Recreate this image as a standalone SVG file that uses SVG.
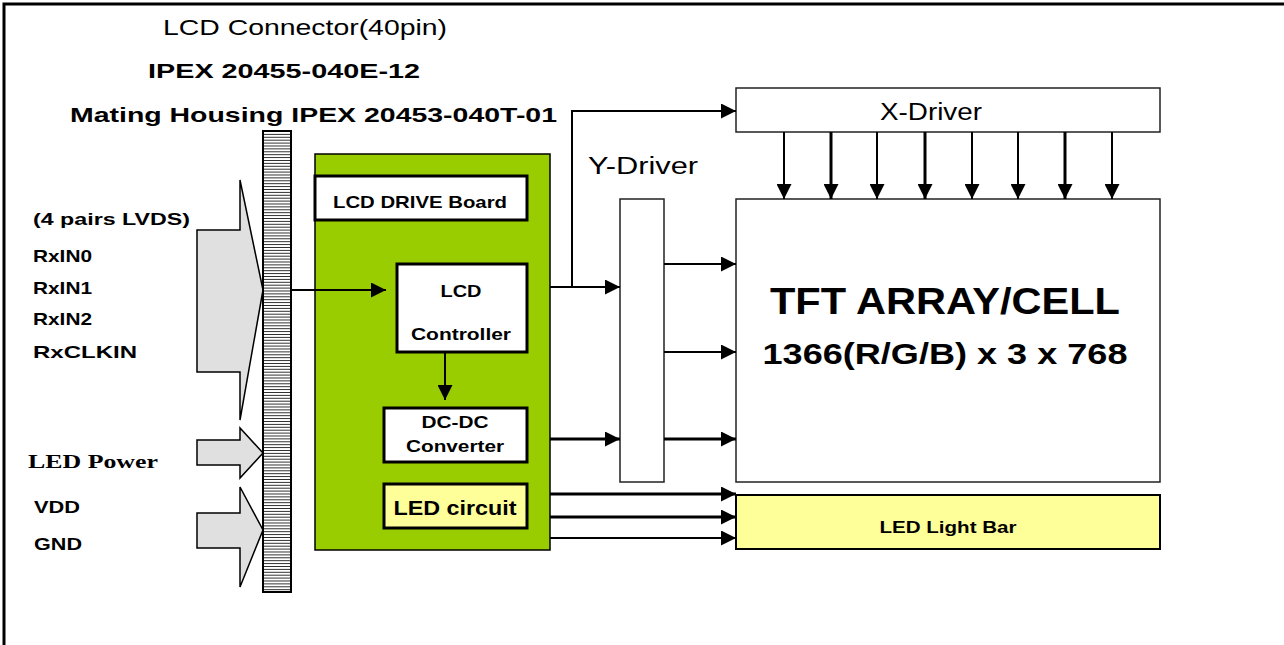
<svg xmlns="http://www.w3.org/2000/svg" width="1284" height="645" viewBox="0 0 1284 645">
<style>
text{font-family:"Liberation Sans",Arial,sans-serif;fill:#000}
.b{font-weight:bold}
.box{fill:#fff;stroke:#000;stroke-width:3}
.thin{fill:#fff;stroke:#222;stroke-width:1.5}
.yel{fill:#ffff99;stroke:#000;stroke-width:2}
.ln{stroke:#000;stroke-width:2;fill:none}
.lnt{stroke:#000;stroke-width:3;fill:none}
.big{fill:#e0e0e0;stroke:#000;stroke-width:1.5}
</style>
<defs>
<marker id="ahs" viewBox="0 0 10 10" refX="10" refY="5" markerWidth="15" markerHeight="15" markerUnits="userSpaceOnUse" orient="auto"><path d="M0,0 L10,5 L0,10 Z" fill="#000"/></marker>
<pattern id="stripes" x="0" y="131" width="10" height="2.9" patternUnits="userSpaceOnUse"><rect width="10" height="2.9" fill="#fff"/><rect width="10" height="0.8" fill="#000"/></pattern>
</defs>
<rect width="1284" height="645" fill="#fff"/>
<path d="M4,645 V4 H1284" stroke="#000" stroke-width="3" fill="none"/>

<g id="title">
<text x="163" y="35" font-size="22" textLength="284" lengthAdjust="spacingAndGlyphs">LCD Connector(40pin)</text>
<text x="148" y="78" font-size="20" class="b" textLength="272" lengthAdjust="spacingAndGlyphs">IPEX 20455-040E-12</text>
<text x="70" y="122" font-size="21" class="b" textLength="487" lengthAdjust="spacingAndGlyphs">Mating Housing IPEX 20453-040T-01</text>
</g>

<g id="inputs">
<path class="big" d="M197,230 H240 V180 L263,290 L240,420 V372 H197 Z"/>
<path class="big" d="M197,440 H240 V428 L263,453 L240,478 V465 H197 Z"/>
<path class="big" d="M197,513 H240 V487 L263,530 L240,587 V548 H197 Z"/>
<text x="33" y="225" font-size="17" class="b" textLength="157" lengthAdjust="spacingAndGlyphs">(4 pairs LVDS)</text>
<text x="33" y="262" font-size="17" class="b" textLength="59" lengthAdjust="spacingAndGlyphs">RxIN0</text>
<text x="33" y="294" font-size="17" class="b" textLength="59" lengthAdjust="spacingAndGlyphs">RxIN1</text>
<text x="33" y="325" font-size="17" class="b" textLength="59" lengthAdjust="spacingAndGlyphs">RxIN2</text>
<text x="33" y="358" font-size="17" class="b" textLength="104" lengthAdjust="spacingAndGlyphs">RxCLKIN</text>
<text x="28" y="468" font-size="19" font-weight="bold" style="font-family:'Liberation Serif','Times New Roman',serif" textLength="130" lengthAdjust="spacingAndGlyphs">LED Power</text>
<text x="34" y="513" font-size="17" class="b" textLength="46" lengthAdjust="spacingAndGlyphs">VDD</text>
<text x="34" y="550" font-size="17" class="b" textLength="48" lengthAdjust="spacingAndGlyphs">GND</text>
</g>

<g id="connector">
<rect x="263" y="131" width="28" height="461" fill="url(#stripes)" stroke="#000" stroke-width="2"/>
</g>

<g id="drive-board">
<rect x="315" y="154" width="235" height="396" fill="#9acd00" stroke="#000" stroke-width="1.5"/>
<rect class="box" x="315" y="176" width="212" height="44"/>
<text x="420" y="208" font-size="17" class="b" text-anchor="middle" textLength="174" lengthAdjust="spacingAndGlyphs">LCD DRIVE Board</text>
</g>

<g id="lcd-controller">
<rect class="box" x="397" y="264" width="130" height="88"/>
<text x="461" y="297" font-size="16" class="b" text-anchor="middle" textLength="41" lengthAdjust="spacingAndGlyphs">LCD</text>
<text x="461" y="340" font-size="16" class="b" text-anchor="middle" textLength="100" lengthAdjust="spacingAndGlyphs">Controller</text>
</g>

<g id="dcdc">
<rect class="box" x="384" y="408" width="143" height="54"/>
<text x="455" y="428" font-size="16" class="b" text-anchor="middle" textLength="67" lengthAdjust="spacingAndGlyphs">DC-DC</text>
<text x="455" y="452" font-size="16" class="b" text-anchor="middle" textLength="98" lengthAdjust="spacingAndGlyphs">Converter</text>
</g>

<g id="led-circuit">
<rect x="384" y="484" width="143" height="44" fill="#ffff99" stroke="#000" stroke-width="3"/>
<text x="455" y="515" font-size="20" class="b" text-anchor="middle" textLength="123" lengthAdjust="spacingAndGlyphs">LED circuit</text>
</g>

<g id="y-driver">
<rect class="thin" x="620" y="199" width="44" height="283"/>
<text x="643" y="174" font-size="23" text-anchor="middle" textLength="110" lengthAdjust="spacingAndGlyphs">Y-Driver</text>
</g>

<g id="x-driver">
<rect class="thin" x="736" y="88" width="424" height="44"/>
<text x="931" y="120" font-size="23" text-anchor="middle" textLength="102" lengthAdjust="spacingAndGlyphs">X-Driver</text>
</g>

<g id="tft">
<rect class="thin" x="736" y="199" width="424" height="283"/>
<text x="945" y="314" font-size="37" class="b" text-anchor="middle" textLength="350" lengthAdjust="spacingAndGlyphs">TFT ARRAY/CELL</text>
<text x="945" y="364" font-size="30" class="b" text-anchor="middle" textLength="365" lengthAdjust="spacingAndGlyphs">1366(R/G/B) x 3 x 768</text>
</g>

<g id="led-light-bar">
<rect class="yel" x="736" y="495" width="424" height="54"/>
<text x="948" y="533" font-size="16" class="b" text-anchor="middle" textLength="137" lengthAdjust="spacingAndGlyphs">LED Light Bar</text>
</g>

<g id="connectors">
<line class="ln" x1="291" y1="290" x2="386" y2="290" marker-end="url(#ahs)"/>
<line class="ln" x1="445" y1="352" x2="445" y2="400" marker-end="url(#ahs)"/>
<line class="ln" x1="550" y1="287" x2="620" y2="287" marker-end="url(#ahs)"/>
<polyline class="ln" points="572,287 572,111 736,111" marker-end="url(#ahs)"/>
<line class="lnt" x1="550" y1="439" x2="620" y2="439" marker-end="url(#ahs)"/>
<line class="ln" x1="664" y1="264" x2="736" y2="264" marker-end="url(#ahs)"/>
<line class="ln" x1="664" y1="352" x2="736" y2="352" marker-end="url(#ahs)"/>
<line class="lnt" x1="664" y1="439" x2="736" y2="439" marker-end="url(#ahs)"/>
<line class="lnt" x1="550" y1="494" x2="736" y2="494" marker-end="url(#ahs)"/>
<line class="lnt" x1="550" y1="517" x2="736" y2="517" marker-end="url(#ahs)"/>
<line class="ln" x1="550" y1="538" x2="736" y2="538" marker-end="url(#ahs)"/>
<line class="ln" x1="784" y1="132" x2="784" y2="199" marker-end="url(#ahs)"/>
<line class="lnt" x1="831" y1="132" x2="831" y2="199" marker-end="url(#ahs)"/>
<line class="ln" x1="877" y1="132" x2="877" y2="199" marker-end="url(#ahs)"/>
<line class="lnt" x1="925" y1="132" x2="925" y2="199" marker-end="url(#ahs)"/>
<line class="ln" x1="972" y1="132" x2="972" y2="199" marker-end="url(#ahs)"/>
<line class="ln" x1="1018" y1="132" x2="1018" y2="199" marker-end="url(#ahs)"/>
<line class="lnt" x1="1065" y1="132" x2="1065" y2="199" marker-end="url(#ahs)"/>
<line class="ln" x1="1112" y1="132" x2="1112" y2="199" marker-end="url(#ahs)"/>
</g>
</svg>
